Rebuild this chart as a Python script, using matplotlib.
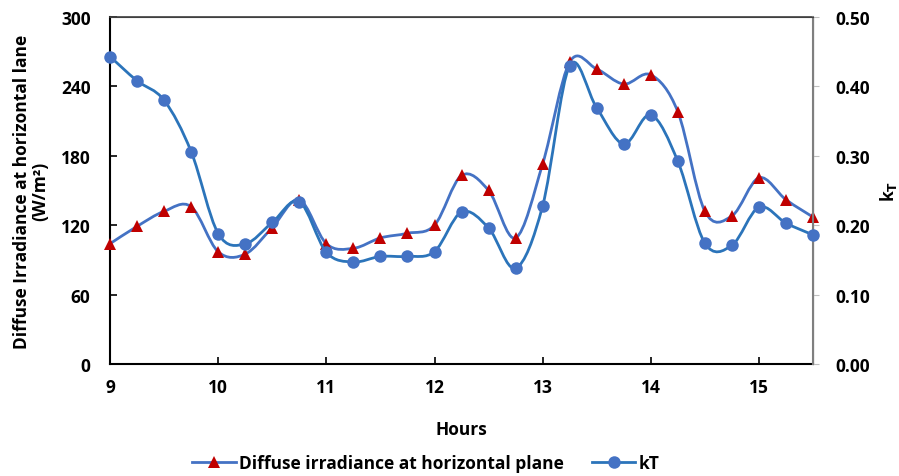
import numpy as np
import matplotlib
matplotlib.use("Agg")
import matplotlib.pyplot as plt
from matplotlib.path import Path
from matplotlib.patches import PathPatch
from matplotlib.lines import Line2D

hours = [9.0, 9.25, 9.5, 9.75, 10.0, 10.25, 10.5, 10.75, 11.0, 11.25, 11.5, 11.75,
         12.0, 12.25, 12.5, 12.75, 13.0, 13.25, 13.5, 13.75, 14.0, 14.25, 14.5,
         14.75, 15.0, 15.25, 15.5]
diffuse = [104, 119, 132, 136, 97, 95, 118, 142, 104, 100, 109, 113,
           120, 163, 150, 109, 173, 261, 255, 242, 250, 218, 132,
           128, 161, 142, 127]
kt = [0.443, 0.408, 0.380, 0.306, 0.188, 0.173, 0.204, 0.234, 0.161, 0.147, 0.155, 0.155,
      0.162, 0.219, 0.196, 0.138, 0.228, 0.430, 0.369, 0.317, 0.359, 0.292, 0.174,
      0.171, 0.226, 0.203, 0.186]
xticks = [9, 10, 11, 12, 13, 14, 15]
left_ticks = [0, 60, 120, 180, 240, 300]
right_ticks = [0.0, 0.1, 0.2, 0.3, 0.4, 0.5]

plt.rcParams['font.family'] = ['Open Sans', 'DejaVu Sans']
plt.rcParams['font.weight'] = 'bold'
FS = 12.5

fig = plt.figure(figsize=(8.99, 4.77), dpi=100)
ax = fig.add_axes([0.1224, 0.2348, 0.7820, 0.7275])
ax2 = ax.twinx()


def smooth_path(ax_, xs, ys):
    # Excel-like smoothed line via cubic Bezier segments (computed in display space)
    pts = ax_.transData.transform(np.column_stack([xs, ys]))
    n = len(pts)
    verts = [pts[0]]
    codes = [Path.MOVETO]
    for i in range(n - 1):
        p0 = pts[i - 1] if i > 0 else pts[i]
        p1 = pts[i]
        p2 = pts[i + 1]
        p3 = pts[i + 2] if i + 2 < n else pts[i + 1]
        c1 = p1 + (p2 - p0) / 6.0
        c2 = p2 - (p3 - p1) / 6.0
        verts += [c1, c2, p2]
        codes += [Path.CURVE4] * 3
    inv = ax_.transData.inverted()
    verts = inv.transform(np.array(verts))
    return Path(verts, codes)


c_line1 = '#4472C4'
c_mark1 = '#C00000'
c_line2 = '#2B74BA'
c_mark2 = '#4472C4'

ax.set_xlim(9, 15.5)
ax.set_ylim(0, 300)
ax2.set_ylim(0, 0.5)
fig.canvas.draw()

p1 = smooth_path(ax, hours, diffuse)
ax.add_patch(PathPatch(p1, facecolor='none', edgecolor=c_line1, lw=2.0, zorder=2))
ax.plot(hours, diffuse, linestyle='none', marker='^', color=c_mark1, markersize=9,
        markeredgewidth=0, zorder=3, clip_on=False)

p2 = smooth_path(ax2, hours, kt)
ax2.add_patch(PathPatch(p2, facecolor='none', edgecolor=c_line2, lw=2.0, zorder=2))
ax2.plot(hours, kt, linestyle='none', marker='o', color=c_mark2, markersize=9,
         markeredgewidth=0, zorder=3, clip_on=False)

ax.set_xticks(xticks)
ax.set_xticklabels([str(v) for v in xticks])
ax.set_yticks(left_ticks)
ax.set_yticklabels([str(v) for v in left_ticks])
ax2.set_yticks(right_ticks)
ax2.set_yticklabels(['%.2f' % v for v in right_ticks])

ax.tick_params(axis='x', direction='in', length=5, width=1.2, labelsize=FS, pad=10, colors='black')
ax.tick_params(axis='y', direction='in', length=5, width=1.2, labelsize=FS, pad=14)
ax2.tick_params(axis='y', direction='out', length=4, width=0.8, color='#BFBFBF', labelsize=FS, pad=12)

for s in ['left', 'bottom']:
    ax.spines[s].set_color('black')
    ax.spines[s].set_linewidth(1.5)
ax.spines['top'].set_color('#404040')
ax.spines['top'].set_linewidth(1.2)
ax2.spines['right'].set_color('#7F7F7F')
ax2.spines['right'].set_linewidth(1.5)
ax2.spines['top'].set_color('#404040')
ax2.spines['left'].set_visible(False)
ax2.spines['bottom'].set_visible(False)

ax.set_xlabel('Hours', fontsize=FS, fontweight='bold', labelpad=17)
ax.set_ylabel('Diffuse Irradiance at horizontal lane\n(W/m\u00b2)', fontsize=FS,
              fontweight='bold', linespacing=1.05, labelpad=8)
ax2.set_ylabel('k$_\\mathbf{T}$', fontsize=FS, fontweight='bold', labelpad=6)

h1 = Line2D([], [], color=c_line1, lw=2.0, marker='^', markerfacecolor=c_mark1,
            markeredgewidth=0, markersize=9)
h2 = Line2D([], [], color=c_line2, lw=2.0, marker='o', markerfacecolor=c_mark2,
            markeredgewidth=0, markersize=9)
fig.legend([h1, h2], ['Diffuse irradiance at horizontal plane', 'kT'],
           loc='center', bbox_to_anchor=(0.474, 0.028), ncol=2, frameon=False,
           fontsize=FS, handlelength=2.5, columnspacing=1.6, handletextpad=0.2)

fig.savefig('out.png', dpi=100)
